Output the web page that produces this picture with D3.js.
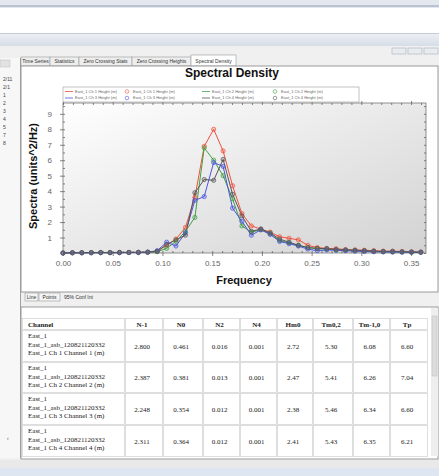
<!DOCTYPE html>
<html lang="en">
<head>
<meta charset="utf-8">
<title>Spectral Density</title>
<style>
  body { margin: 0; background: #f0f0f0; }
  svg { display: block; font-family: "Liberation Sans", Arial, sans-serif; }
  .title { font-size: 12px; font-weight: bold; text-anchor: middle; fill: #111; }
  .axis-title { font-size: 11px; font-weight: bold; text-anchor: middle; fill: #111; }
  .axis text { font-size: 8px; fill: #666; font-family: "Liberation Sans", Arial, sans-serif; }
  .axis line { stroke: #555; stroke-width: 0.7; }
  .axis path { display: none; }
  .legend-text { font-size: 4px; fill: #666; }
  .tab-text { font-size: 5px; fill: #333; }
  .side-text { font-size: 5px; fill: #444; }
  .cell { fill: #fff; stroke: #d6d6d6; stroke-width: 0.8; }
  .cell-text { font-family: "Liberation Serif", "Times New Roman", serif; font-size: 7px; fill: #222; }
  .head-text { font-weight: bold; text-anchor: middle; }
  .series { fill: none; stroke-width: 1; }
</style>
</head>
<body>
<div id="chart"></div>
<script src="https://cdn.jsdelivr.net/npm/d3@7/dist/d3.min.js"></script>
<script>

// ---- data ----
var freq = [0.0000, 0.0095, 0.0189, 0.0284, 0.0379, 0.0473, 0.0568, 0.0663, 0.0758, 0.0852,
            0.0947, 0.1042, 0.1136, 0.1231, 0.1326, 0.1420, 0.1515, 0.1610, 0.1705, 0.1799,
            0.1894, 0.1989, 0.2083, 0.2178, 0.2273, 0.2367, 0.2462, 0.2557, 0.2652, 0.2746,
            0.2841, 0.2936, 0.3030, 0.3125, 0.3220, 0.3314, 0.3409, 0.3504, 0.3598];

var ch1 = [0.00, 0.01, 0.02, 0.02, 0.03, 0.02, 0.03, 0.03, 0.04, 0.05,
           0.12, 0.50, 0.90, 1.65, 3.60, 6.90, 8.00, 6.60, 4.35, 2.55,
           1.75, 1.55, 1.35, 1.05, 0.95, 0.85, 0.50, 0.35, 0.30, 0.28,
           0.22, 0.20, 0.18, 0.15, 0.12, 0.12, 0.10, 0.08, 0.07];

var ch2 = [0.00, 0.01, 0.01, 0.02, 0.02, 0.02, 0.02, 0.03, 0.03, 0.04,
           0.08, 0.30, 0.75, 1.40, 2.30, 6.80, 6.00, 5.00, 3.50, 1.75,
           1.35, 1.50, 1.25, 0.80, 0.65, 0.50, 0.35, 0.28, 0.25, 0.20,
           0.18, 0.15, 0.12, 0.10, 0.08, 0.07, 0.06, 0.05, 0.05];

var ch3 = [0.00, 0.01, 0.01, 0.01, 0.02, 0.02, 0.02, 0.03, 0.03, 0.05,
           0.15, 0.70, 0.45, 1.30, 3.40, 3.65, 5.85, 5.60, 2.90, 2.05,
           1.15, 1.50, 1.20, 0.75, 0.60, 0.45, 0.25, 0.15, 0.20, 0.18,
           0.15, 0.12, 0.10, 0.08, 0.07, 0.06, 0.05, 0.05, 0.04];

var ch4 = [0.00, 0.02, 0.02, 0.03, 0.03, 0.03, 0.04, 0.04, 0.05, 0.06,
           0.10, 0.55, 0.85, 1.15, 3.90, 4.75, 4.70, 6.05, 3.80, 2.40,
           1.40, 1.55, 1.30, 0.90, 0.70, 0.50, 0.35, 0.30, 0.28, 0.22,
           0.20, 0.18, 0.15, 0.12, 0.10, 0.10, 0.08, 0.06, 0.05];

var seriesNames = ["East_1 Ch 1 Height (m)", "East_1 Ch 2 Height (m)",
                   "East_1 Ch 3 Height (m)", "East_1 Ch 4 Height (m)"];
var seriesColors = ["#f0503c", "#3fa046", "#4a55e0", "#555555"];

var xTicks = [0.00, 0.05, 0.10, 0.15, 0.20, 0.25, 0.30, 0.35];
var yTicks = [1, 2, 3, 4, 5, 6, 7, 8, 9];

var tabNames = ["Time Series", "Statistics", "Zero Crossing Stats", "Zero Crossing Heights", "Spectral Density"];
var sideLabels = ["2/11", "2/1", "1", "2", "3", "4", "5", "7", "8"];

var tableHead = ["Channel", "N-1", "N0", "N2", "N4", "Hm0", "Tm0,2", "Tm-1,0", "Tp"];
var channelText = [
  ["East_1", "East_1_asb_120821120332", "East_1 Ch 1 Channel 1 (m)"],
  ["East_1", "East_1_asb_120821120332", "East_1 Ch 2 Channel 2 (m)"],
  ["East_1", "East_1_asb_120821120332", "East_1 Ch 3 Channel 3 (m)"],
  ["East_1", "East_1_asb_120821120332", "East_1 Ch 4 Channel 4 (m)"]
];
var tableValues = [
  ["2.800", "0.461", "0.016", "0.001", "2.72", "5.30", "6.08", "6.60"],
  ["2.387", "0.381", "0.013", "0.001", "2.47", "5.41", "6.26", "7.04"],
  ["2.248", "0.354", "0.012", "0.001", "2.38", "5.46", "6.34", "6.60"],
  ["2.311", "0.364", "0.012", "0.001", "2.41", "5.43", "6.35", "6.21"]
];

// ---- page ----
var W = 439, H = 476;

var svg = d3.select("#chart").append("svg")
            .attr("width", W)
            .attr("height", H);

var defs = svg.append("defs");

var plotGrad = defs.append("linearGradient")
                   .attr("id", "plotGrad")
                   .attr("x1", 0).attr("y1", 0).attr("x2", 1).attr("y2", 1);
plotGrad.append("stop").attr("offset", "0%").attr("stop-color", "#ffffff");
plotGrad.append("stop").attr("offset", "100%").attr("stop-color", "#d2d2d2");

var barGrad = defs.append("linearGradient")
                  .attr("id", "barGrad")
                  .attr("x1", 0).attr("y1", 0).attr("x2", 0).attr("y2", 1);
barGrad.append("stop").attr("offset", "0%").attr("stop-color", "#eef1f5");
barGrad.append("stop").attr("offset", "100%").attr("stop-color", "#d6dde7");

// window chrome
svg.append("rect").attr("width", W).attr("height", H).attr("fill", "#f0f0f0");
svg.append("rect").attr("width", W).attr("height", 8).attr("fill", "#e4e8ee");
svg.append("rect").attr("y", 5).attr("width", W).attr("height", 2).attr("fill", "#b9c3d1");
svg.append("rect").attr("y", 8).attr("width", W).attr("height", 25).attr("fill", "#ffffff");
svg.append("rect").attr("y", 33).attr("width", W).attr("height", 13).attr("fill", "url(#barGrad)");
svg.append("rect").attr("y", 33).attr("width", W).attr("height", 1).attr("fill", "#c3cad4");

// small window buttons top right
[392, 408, 424].forEach(function(bx){
    svg.append("rect")
       .attr("x", bx).attr("y", 48).attr("width", 14).attr("height", 6)
       .attr("fill", "#e8ecf0").attr("stroke", "#a8b0bc").attr("stroke-width", 0.6);
});

// left side strip
svg.append("rect").attr("x", 0).attr("y", 58).attr("width", 20).attr("height", 400)
   .attr("fill", "#f7f7f7");
svg.append("line").attr("x1", 20.5).attr("x2", 20.5).attr("y1", 58).attr("y2", 458)
   .attr("stroke", "#a0a0a0").attr("stroke-width", 1);
svg.append("rect").attr("x", 0).attr("y", 60).attr("width", 10).attr("height", 7)
   .attr("fill", "#e2e2e2").attr("stroke", "#bbb").attr("stroke-width", 0.5);
svg.selectAll(".side-text")
   .data(sideLabels)
   .enter()
   .append("text")
   .attr("class", "side-text")
   .attr("x", 3)
   .attr("y", function(d, i){ return 81 + i * 8; })
   .text(function(d){ return d; });
svg.append("text").attr("class", "side-text").attr("x", 7).attr("y", 440).text("‹");

// tabs
var tabX = [21, 50, 79, 132, 191, 236];
var tabs = svg.append("g");
tabNames.forEach(function(t, i){
    var sel = (i === tabNames.length - 1);
    tabs.append("rect")
        .attr("x", tabX[i]).attr("y", sel ? 55 : 57)
        .attr("width", tabX[i + 1] - tabX[i]).attr("height", sel ? 11 : 9)
        .attr("fill", sel ? "#ffffff" : "#eeeeee")
        .attr("stroke", "#9a9a9a").attr("stroke-width", 0.6);
    tabs.append("text")
        .attr("class", "tab-text")
        .attr("x", (tabX[i] + tabX[i + 1]) / 2)
        .attr("y", 63)
        .attr("text-anchor", "middle")
        .text(t);
});

// chart panel
svg.append("rect").attr("x", 21).attr("y", 66).attr("width", 417).attr("height", 226)
   .attr("fill", "#ffffff").attr("stroke", "#9a9a9a").attr("stroke-width", 1);

// ---- chart ----
var x = d3.scaleLinear().domain([0, 0.365]).range([63, 426]);
var y = d3.scaleLinear().domain([0, 9.7]).range([253, 103]);

svg.append("text")
   .attr("class", "title")
   .attr("x", 232).attr("y", 77)
   .text("Spectral Density");

svg.append("rect")
   .attr("x", x(0)).attr("y", y(9.7))
   .attr("width", x(0.365) - x(0)).attr("height", y(0) - y(9.7))
   .attr("fill", "url(#plotGrad)")
   .attr("stroke", "#777").attr("stroke-width", 0.8);

var minorX = d3.range(0, 0.365, 0.01);
var minorY = d3.range(0, 9.7, 0.5);

// bottom axis with labels
svg.append("g")
   .attr("class", "axis")
   .attr("transform", "translate(0," + y(0) + ")")
   .call(d3.axisBottom(x).tickValues(xTicks).tickSize(3).tickPadding(4).tickFormat(d3.format(".2f")));
svg.append("g")
   .attr("class", "axis")
   .attr("transform", "translate(0," + y(0) + ")")
   .call(d3.axisTop(x).tickValues(minorX).tickSize(2).tickFormat(""));
// top axis, ticks inward
svg.append("g")
   .attr("class", "axis")
   .attr("transform", "translate(0," + y(9.7) + ")")
   .call(d3.axisBottom(x).tickValues(minorX).tickSize(2).tickFormat(""));
svg.append("g")
   .attr("class", "axis")
   .attr("transform", "translate(0," + y(9.7) + ")")
   .call(d3.axisTop(x).tickValues(xTicks).tickSize(2).tickFormat(""));

// left axis with labels
svg.append("g")
   .attr("class", "axis")
   .attr("transform", "translate(" + x(0) + ",0)")
   .call(d3.axisLeft(y).tickValues(yTicks).tickSize(3).tickPadding(8).tickFormat(d3.format("d")));
svg.append("g")
   .attr("class", "axis")
   .attr("transform", "translate(" + x(0) + ",0)")
   .call(d3.axisRight(y).tickValues(minorY).tickSize(2).tickFormat(""));
// right axis, ticks inward
svg.append("g")
   .attr("class", "axis")
   .attr("transform", "translate(" + x(0.365) + ",0)")
   .call(d3.axisLeft(y).tickValues(minorY).tickSize(2).tickFormat(""));

svg.append("text")
   .attr("class", "axis-title")
   .attr("x", 244).attr("y", 284)
   .text("Frequency");

svg.append("text")
   .attr("class", "axis-title")
   .attr("transform", "rotate(-90)")
   .attr("x", -176).attr("y", 37)
   .text("Spectra (units^2/Hz)");

// series
var allSeries = [ch1, ch2, ch3, ch4];
var line = d3.line()
             .x(function(d, i){ return x(freq[i]); })
             .y(function(d){ return y(d); });

var plt = svg.append("g");
allSeries.forEach(function(s, k){
    plt.append("path")
       .datum(s)
       .attr("class", "series")
       .attr("stroke", seriesColors[k])
       .attr("d", line);
});
allSeries.forEach(function(s, k){
    plt.selectAll(".m" + k)
       .data(s)
       .enter()
       .append("circle")
       .attr("class", "m" + k)
       .attr("cx", function(d, i){ return x(freq[i]); })
       .attr("cy", function(d){ return y(d); })
       .attr("r", 2.1)
       .attr("fill", seriesColors[k])
       .attr("fill-opacity", 0.25)
       .attr("stroke", seriesColors[k])
       .attr("stroke-width", 0.7);
});

// legend
var legend = svg.append("g");
legend.append("rect")
      .attr("x", 63).attr("y", 87).attr("width", 296).attr("height", 15)
      .attr("fill", "#ffffff").attr("stroke", "#999").attr("stroke-width", 0.6);

var lineCol = [63, 200];
var markCol = [127, 275];
seriesNames.forEach(function(name, k){
    var row = (k < 2) ? 0 : 1;
    var col = k % 2;
    var ly = 91.5 + row * 6.5;
    legend.append("line")
          .attr("x1", lineCol[col] + 2).attr("x2", lineCol[col] + 10)
          .attr("y1", ly).attr("y2", ly)
          .attr("stroke", seriesColors[k]).attr("stroke-width", 0.8);
    legend.append("text")
          .attr("class", "legend-text")
          .attr("x", lineCol[col] + 12).attr("y", ly + 1.4)
          .text(name);
    legend.append("circle")
          .attr("cx", markCol[col]).attr("cy", ly).attr("r", 1.8)
          .attr("fill", "none").attr("stroke", seriesColors[k]).attr("stroke-width", 0.6);
    legend.append("text")
          .attr("class", "legend-text")
          .attr("x", markCol[col] + 6).attr("y", ly + 1.4)
          .text(name);
});

// buttons under chart
var btnBar = svg.append("g");
[["Line", 25, 13], ["Points", 39, 21]].forEach(function(b){
    btnBar.append("rect")
          .attr("x", b[1]).attr("y", 293).attr("width", b[2]).attr("height", 8)
          .attr("fill", "#f4f4f4").attr("stroke", "#999").attr("stroke-width", 0.6);
    btnBar.append("text")
          .attr("class", "tab-text")
          .attr("x", b[1] + b[2] / 2).attr("y", 298.8)
          .attr("text-anchor", "middle")
          .text(b[0]);
});
btnBar.append("text").attr("class", "tab-text").attr("x", 64).attr("y", 298.8).text("95% Conf Int");

// ---- table ----
svg.append("rect").attr("x", 21).attr("y", 307).attr("width", 417).attr("height", 152)
   .attr("fill", "#ffffff").attr("stroke", "#9a9a9a").attr("stroke-width", 1);

// scrollbar
svg.append("rect").attr("x", 431).attr("y", 308).attr("width", 7).attr("height", 148)
   .attr("fill", "#eeeeee");
svg.append("rect").attr("x", 432).attr("y", 316).attr("width", 5).attr("height", 60)
   .attr("fill", "#dcdcdc").attr("stroke", "#bbb").attr("stroke-width", 0.5);

var colX = [22, 125, 163, 203, 240, 277, 313, 353, 390, 428];
var rowY = [318, 330, 362, 393, 425, 457];

var table = svg.append("g");
tableHead.forEach(function(h, c){
    table.append("rect")
         .attr("class", "cell")
         .attr("x", colX[c] + 0.5).attr("y", rowY[0] + 0.5)
         .attr("width", colX[c + 1] - colX[c] - 1).attr("height", rowY[1] - rowY[0] - 1);
    table.append("text")
         .attr("class", "cell-text head-text")
         .attr("x", c === 0 ? colX[c] + 6 : (colX[c] + colX[c + 1]) / 2 - 2)
         .attr("y", 326.5)
         .style("text-anchor", c === 0 ? "start" : "middle")
         .text(h);
});

tableValues.forEach(function(row, r){
    var top = rowY[r + 1], bot = rowY[r + 2];
    for (var c = 0; c < colX.length - 1; c++) {
        table.append("rect")
             .attr("class", "cell")
             .attr("x", colX[c] + 0.5).attr("y", top + 0.5)
             .attr("width", colX[c + 1] - colX[c] - 1).attr("height", bot - top - 1);
    }
    channelText[r].forEach(function(t, j){
        table.append("text")
             .attr("class", "cell-text")
             .attr("x", colX[0] + 6)
             .attr("y", top + 8 + j * 8.5)
             .text(t);
    });
    row.forEach(function(v, j){
        table.append("text")
             .attr("class", "cell-text")
             .attr("x", (colX[j + 1] + colX[j + 2]) / 2 - 2)
             .attr("y", (top + bot) / 2 + 2.5)
             .attr("text-anchor", "middle")
             .text(v);
    });
});

// bottom bar
svg.append("rect").attr("x", 0).attr("y", 460).attr("width", W).attr("height", 16).attr("fill", "#e9e9e9");
svg.append("rect").attr("x", 0).attr("y", 468).attr("width", W).attr("height", 8).attr("fill", "#dde6f1");

</script>
</body>
</html>
